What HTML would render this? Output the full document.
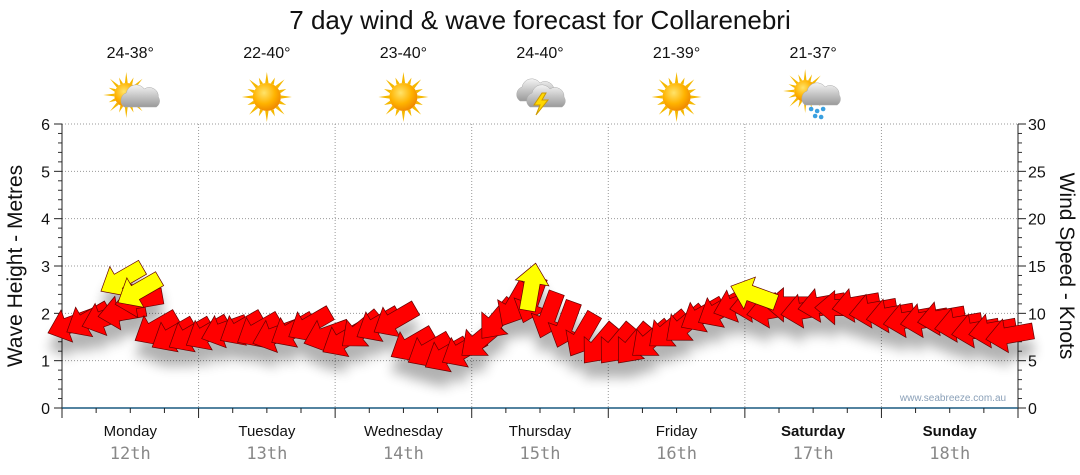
<!DOCTYPE html>
<html><head><meta charset="utf-8">
<style>
body{margin:0;background:#fff;width:1080px;height:475px;overflow:hidden;font-family:"Liberation Sans",sans-serif}
svg{display:block}
</style></head>
<body>
<svg id="chart" width="1080" height="475" viewBox="0 0 1080 475">
<defs>
<filter id="shadow" x="-50%" y="-50%" width="200%" height="200%"><feGaussianBlur stdDeviation="6"/></filter>
<radialGradient id="sunG" cx="40%" cy="35%" r="65%"><stop offset="0" stop-color="#ffe36a"/><stop offset="0.6" stop-color="#ffb300"/><stop offset="1" stop-color="#f08a00"/></radialGradient>
<linearGradient id="cloudG" x1="0" y1="0" x2="0" y2="1"><stop offset="0" stop-color="#f4f4f4"/><stop offset="1" stop-color="#9a9a9a"/></linearGradient>
</defs>
<text x="540" y="29" text-anchor="middle" font-size="26" fill="#111">7 day wind &amp; wave forecast for Collarenebri</text>
<g id="grid"></g>
<g id="axes"></g>
<g id="icons"></g>
<g id="shadows" filter="url(#shadow)" opacity="0.3"></g>
<g id="arrows"></g>
<text x="953" y="401" text-anchor="middle" font-size="10" fill="#8aa0b8">www.seabreeze.com.au</text>
<text transform="translate(22,266) rotate(-90)" text-anchor="middle" font-size="21" fill="#111">Wave Height - Metres</text>
<text transform="translate(1060,266) rotate(90)" text-anchor="middle" font-size="21" fill="#111">Wind Speed - Knots</text>
</svg>
<script>
const days = ["Monday","Tuesday","Wednesday","Thursday","Friday","Saturday","Sunday"];
const dates = ["12th","13th","14th","15th","16th","17th","18th"];
const temps = ["24-38°","22-40°","23-40°","24-40°","21-39°","21-37°",""];
const weather = ["partly","sun","sun","storm","sun","showers",""];
const leftTicks = [0,1,2,3,4,5,6];
const rightTicks = [0,5,10,15,20,25,30];
const windSpeed = [8.8,9.3,9.5,10.1,11.4,8.4,7.7,7.7,
 7.9,8.2,8.4,8.2,7.7,8.2,8.8,7.7,
 7.2,8.2,8.8,9.3,6.7,6.1,5.6,6.1,
 7.2,9.3,10.9,11.4,9.8,8.8,7.7,6.7,
 6.7,6.7,7.2,8.2,8.8,9.8,10.3,10.9,
 10.9,10.3,10.9,10.3,10.9,10.6,10.9,10.3,
 9.8,9.3,9.3,9.5,8.8,8.2,8.2,7.7];
const windFrom = [70,60,70,80,80,60,60,60,
 60,70,60,60,70,60,60,70,
 60,50,60,60,60,60,60,60,
 50,40,30,20,20,20,30,40,
 40,40,50,50,50,60,60,70,
 80,80,90,80,80,90,80,80,
 80,80,80,80,80,80,80,80];
const gustSpeed = [null,null,null,13.6,12.4,null,null,null,
 null,null,null,null,null,null,null,null,
 null,null,null,null,null,null,null,null,
 null,null,null,12.8,null,null,null,null,
 null,null,null,null,null,null,null,null,
 12.0,null,null,null,null,null,null,null,
 null,null,null,null,null,null,null,null];
const gustFrom = [null,null,null,60,60,null,null,null,
 null,null,null,null,null,null,null,null,
 null,null,null,null,null,null,null,null,
 null,null,null,190,null,null,null,null,
 null,null,null,null,null,null,null,null,
 110,null,null,null,null,null,null,null,
 null,null,null,null,null,null,null,null];

const NS="http://www.w3.org/2000/svg";
const X0=62,X1=1018,Y0=408,Y1=124;
const dayW=(X1-X0)/7;
const yM=m=>Y0-(m/6)*(Y0-Y1);
const yK=k=>Y0-(k/30)*(Y0-Y1);
const xT=i=>X0+(i+0.5)*dayW/8;
function mk(tag,attrs,parent,txt){const e=document.createElementNS(NS,tag);for(const k in attrs)e.setAttribute(k,attrs[k]);if(txt!==undefined)e.textContent=txt;parent.appendChild(e);return e;}
const grid=document.getElementById('grid'),axes=document.getElementById('axes'),icons=document.getElementById('icons');
leftTicks.forEach(t=>{ if(t>0){const l=mk('line',{x1:X0,x2:X1,y1:yM(t),y2:yM(t),stroke:'#999','stroke-dasharray':'1,2'},grid);

}
const tx=mk('text',{x:50,y:yM(t)+6,'text-anchor':'end','font-size':16,fill:'#111'},axes,t);


mk('line',{x1:X0-8,x2:X0,y1:yM(t),y2:yM(t),stroke:'#222'},axes);
for(let j=1;j<5&&t<6;j++)mk('line',{x1:X0-4,x2:X0,y1:yM(t+j/5),y2:yM(t+j/5),stroke:'#333'},axes);
});
rightTicks.forEach(t=>{const tx=mk('text',{x:1028,y:yK(t)+6,'font-size':16,fill:'#111'},axes,t);


mk('line',{x1:X1,x2:X1+8,y1:yK(t),y2:yK(t),stroke:'#222'},axes);
for(let j=1;j<5&&t<30;j++)mk('line',{x1:X1,x2:X1+4,y1:yK(t+j),y2:yK(t+j),stroke:'#333'},axes);
});
mk('line',{x1:X0,x2:X0,y1:Y1,y2:Y0,stroke:'#222'},axes);
mk('line',{x1:X1,x2:X1,y1:Y1,y2:Y0,stroke:'#222'},axes);
mk('line',{x1:X0,x2:X1,y1:Y0,y2:Y0,stroke:'#1a5a80','stroke-width':1.5},axes);
for(let d=0;d<=7;d++){const x=X0+d*dayW;
 if(d>0&&d<7)mk('line',{x1:x,x2:x,y1:Y1,y2:Y0,stroke:'#999','stroke-dasharray':'1,2'},grid);
 mk('line',{x1:x,x2:x,y1:Y0,y2:Y0+10,stroke:'#222'},axes);
 if(d<7)for(let q=1;q<4;q++)mk('line',{x1:x+q*dayW/4,x2:x+q*dayW/4,y1:Y0,y2:Y0+5,stroke:'#222'},axes);
}
days.forEach((d,i)=>{const cx=X0+(i+0.5)*dayW;const bold=i>=5;
 const t=mk('text',{x:cx,y:436,'text-anchor':'middle','font-size':15,fill:'#111','font-weight':bold?'bold':'normal'},axes,d);
 
 
 const t2=mk('text',{x:cx,y:459,'text-anchor':'middle','font-size':17,fill:'#888','font-family':'DejaVu Sans Mono, monospace'},axes,dates[i]);
 
 
 if(temps[i]){const t3=mk('text',{x:cx,y:58,'text-anchor':'middle','font-size':16,fill:'#111'},icons,temps[i]);
 
 }
 drawIcon(weather[i],cx,97,i);
});
function sun(g,x,y,r){for(let k=0;k<16;k++){const a=k*Math.PI/8,l=k%2?r+7:r+11;
 mk('polygon',{points:`${x+Math.cos(a-0.12)*r},${y+Math.sin(a-0.12)*r} ${x+Math.cos(a)*l},${y+Math.sin(a)*l} ${x+Math.cos(a+0.12)*r},${y+Math.sin(a+0.12)*r}`,fill:'#f5b800'},g);}
 mk('circle',{cx:x,cy:y,r:r,fill:'url(#sunG)'},g);}
function cloud(g,x,y,s){mk('path',{d:`M${x-16*s},${y+8*s} a8,8 0 0 1 2,-14 a10,10 0 0 1 18,-4 a9,9 0 0 1 14,8 a7,7 0 0 1 -2,10 z`,fill:'url(#cloudG)',stroke:'#aaa','stroke-width':0.5},g);}
function drawIcon(type,x,y,i){if(!type)return;const g=mk('g',{},icons);
 
 
 if(type==='sun')sun(g,x,y,14);
 if(type==='partly'){sun(g,x-4,y-2,12);cloud(g,x+10,y+2,1);}
 if(type==='storm'){cloud(g,x-4,y-4,1);cloud(g,x+6,y+2,1);mk('polygon',{points:`${x+2},${y-4} ${x-6},${y+8} ${x},${y+8} ${x-4},${y+18} ${x+8},${y+3} ${x+2},${y+3} ${x+6},${y-4}`,fill:'#ffd800',stroke:'#c90'},g);}
 if(type==='showers'){sun(g,x-8,y-6,11);cloud(g,x+8,y,1);[[-2,12],[4,14],[10,12],[2,19],[8,20]].forEach(p=>mk('circle',{cx:x+p[0],cy:y+p[1],r:2.3,fill:'#3aa0e0'},g));}
}
const shadows=document.getElementById('shadows'),arrows=document.getElementById('arrows');
const arrowPts="-24,-8 4,-8 4,-17 24,0 4,17 4,8 -24,8";
function drawArrow(i,k,from,color,name){const x=xT(i),y=yK(k),rot=from+180-90;
 mk('polygon',{points:arrowPts,transform:`translate(${x},${y+16}) rotate(${rot})`,fill:'#000'},shadows);
 const p=mk('polygon',{points:arrowPts,transform:`translate(${x},${y}) rotate(${rot})`,fill:color,stroke:'#600','stroke-width':0.7},arrows);
 
 }
windSpeed.forEach((k,i)=>drawArrow(i,k,windFrom[i],'#ff0000','wind-arrow'));
gustSpeed.forEach((k,i)=>{if(k!==null)drawArrow(i,k,gustFrom[i],'#ffff00','gust-arrow');});
</script>
</body></html>
